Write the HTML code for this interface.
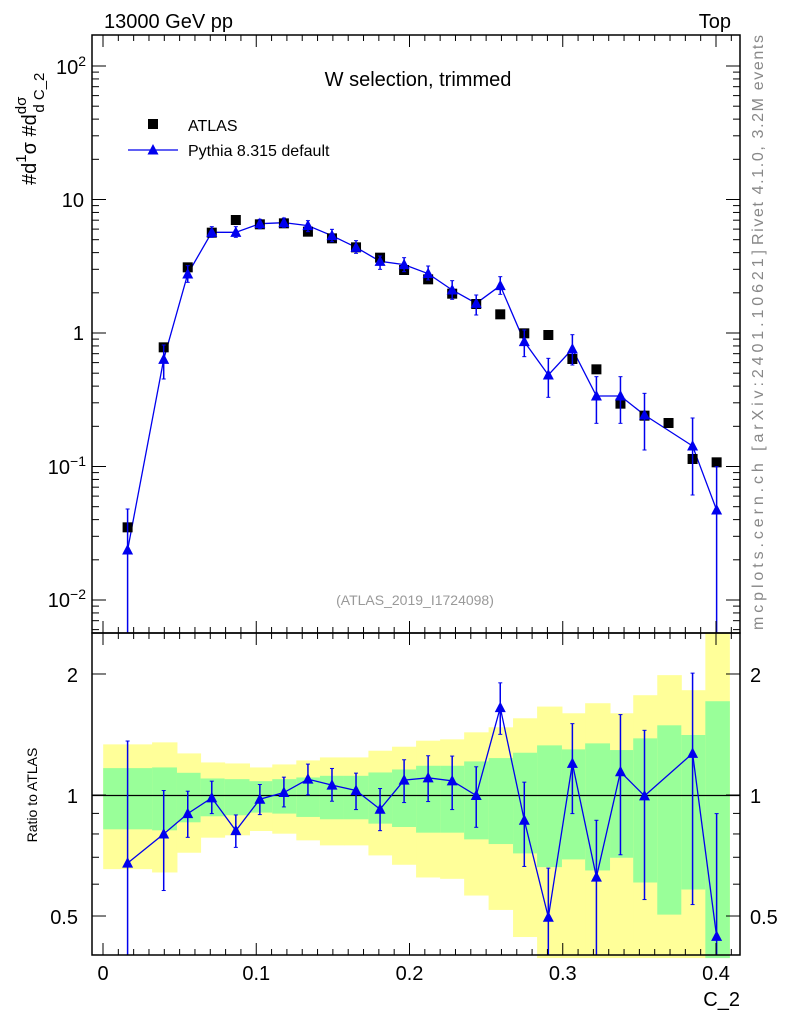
<!DOCTYPE html>
<html><head><meta charset="utf-8"><style>
html,body{margin:0;padding:0;background:#fff}
svg text{font-family:"Liberation Sans",sans-serif}
</style></head><body>
<svg id="s" width="786" height="1024" xmlns="http://www.w3.org/2000/svg"></svg>
<script>
const s=document.getElementById('s');let h='';
const X=v=>103+v*1532.5;
const YM=v=>333-133.5*Math.log10(v);
const YR=r=>795-402*Math.log10(r);
const ez=[27,145,205,262,320,380,435,493,550,608,667,724,782,840,898,957,1016,1074,1134,1190,1250,1306,1364,1422,1480,1538].map(z=>92+z/2.413);
const bands=[[333,404,587,706],[327,402,590,716],[360,418,566,657],[387,435,548,612],[390,437,545,605],[402,443,537,592],[393,437,540,600],[381,432,550,620],[372,427,557,635],[372,427,557,635],[352,417,570,665],[340,408,580,693],[322,397,597,731],[318,397,597,735],[297,384,617,785],[282,374,631,828],[255,358,659,909],[220,336,700,972],[240,348,677,972],[210,330,710,972],[240,350,672,972],[186,315,746,972],[126,276,842,972],[171,305,767,972],[0,204,972,972]];
const ry=z=>633+z/2.99;
for(let i=0;i<25;i++){const b=bands[i],x0=ez[i],w=ez[i+1]-x0;
h+=`<rect x="${x0}" y="${ry(b[0])}" width="${w+0.5}" height="${ry(b[3])-ry(b[0])}" fill="#ffff99"/>`;
h+=`<rect x="${x0}" y="${ry(b[1])}" width="${w+0.5}" height="${ry(b[2])-ry(b[1])}" fill="#99ff99"/>`;}
const cx=i=>i==0?127.6:163.7+(i-1)*24.04;
const A=[1012,472,232,128,90,103,100,125,145,172,203,240,268,311,342,373,430,435,507,538,641,677,699,807,817];
const P=[[1080,957,1335],[508,465,567],[252,227,277],[127,110,142],[127,110,142],[101,88,116],[98,84,112],[107,92,125],[137,118,155],[172,152,190],[214,198,238],[224,203,245],[251,228,270],[300,272,328],[340,315,375],[287,260,313],[455,420,500],[555,505,622],[477,434,525],[618,560,700],[618,560,700],[675,610,780],null,[768,684,915],[960,830,1335]];
const my=z=>190+z/3;
const tri=(x,y)=>`<polygon points="${x-5.5},${y+4.5} ${x+5.5},${y+4.5} ${x},${y-6}" fill="#0000ee"/>`;
const R=[[688,323,972],[601,471,770],[540,473,611],[493,443,540],[591,544,641],[497,453,543],[477,431,520],[437,392,484],[455,405,503],[471,419,528],[527,465,591],[440,379,507],[433,367,504],[442,368,528],[486,400,581],[223,149,303],[560,446,698],[850,703,972],[390,271,540],[730,560,972],[415,244,663],[487,291,797],null,[360,120,812],[907,540,972]];
h+=`<line x1="92" y1="795.5" x2="740" y2="795.5" stroke="#000" stroke-width="1.3"/>`;
let pl=[],rl=[];
for(let i=0;i<25;i++){if(P[i])pl.push(cx(i)+','+my(P[i][0]));if(R[i])rl.push(cx(i)+','+ry(R[i][0]));}
h+=`<polyline points="${pl.join(' ')}" fill="none" stroke="#0000ee" stroke-width="1.3"/>`;
h+=`<polyline points="${rl.join(' ')}" fill="none" stroke="#0000ee" stroke-width="1.3"/>`;
for(let i=0;i<25;i++){const x=cx(i);
h+=`<rect x="${x-5}" y="${my(A[i])-5}" width="10" height="10" fill="#000"/>`;
if(P[i]){const t=my(P[i][1]),b=Math.min(my(P[i][2]),633);
h+=`<line x1="${x}" y1="${t}" x2="${x}" y2="${b}" stroke="#0000ee" stroke-width="1.5"/><line x1="${x-2}" y1="${t}" x2="${x+2}" y2="${t}" stroke="#0000ee"/>`;
if(b<633)h+=`<line x1="${x-2}" y1="${b}" x2="${x+2}" y2="${b}" stroke="#0000ee"/>`;
h+=tri(x,my(P[i][0]));}
if(R[i]){const t=ry(R[i][1]),b=Math.min(ry(R[i][2]),955);
h+=`<line x1="${x}" y1="${t}" x2="${x}" y2="${b}" stroke="#0000ee" stroke-width="1.5"/><line x1="${x-2}" y1="${t}" x2="${x+2}" y2="${t}" stroke="#0000ee"/>`;
if(b<955)h+=`<line x1="${x-2}" y1="${b}" x2="${x+2}" y2="${b}" stroke="#0000ee"/>`;
h+=tri(x,ry(R[i][0]));}}
h+=`<rect x="92" y="35" width="648" height="598" fill="none" stroke="#000" stroke-width="1.5"/>`;
h+=`<rect x="92" y="633" width="648" height="322" fill="none" stroke="#000" stroke-width="1.5"/>`;
for(let k=0;k<=41;k++){const v=k/100,x=X(v),L=k%10==0?12:6;
for(const [y0,d] of [[35,1],[633,-1],[633,1],[955,-1]])h+=`<line x1="${x}" y1="${y0}" x2="${x}" y2="${y0+d*L}" stroke="#000"/>`;}
for(let e=-3;e<=2;e++)for(let m=1;m<10;m++){const v=m*Math.pow(10,e),y=YM(v);if(y<35||y>633)continue;const L=m==1?14:7;
h+=`<line x1="92" y1="${y}" x2="${92+L}" y2="${y}" stroke="#000"/><line x1="740" y1="${y}" x2="${740-L}" y2="${y}" stroke="#000"/>`;}
for(const r of [0.4,0.5,0.6,0.7,0.8,0.9,1,2]){const y=YR(r);const L=(r==0.5||r==1||r==2)?14:7;
h+=`<line x1="92" y1="${y}" x2="${92+L}" y2="${y}" stroke="#000"/><line x1="740" y1="${y}" x2="${740-L}" y2="${y}" stroke="#000"/>`;}
const T=(x,y,t,a='start',sz=20,c='#000',ex='')=>h+=`<text x="${x}" y="${y}" font-size="${sz}" text-anchor="${a}" fill="${c}" ${ex}>${t}</text>`;
T(104,28,'13000 GeV pp');T(731,28,'Top','end');
T(418,86,'W selection, trimmed','middle');
h+=`<rect x="148" y="119" width="10" height="10" fill="#000"/>`;T(188,131,'ATLAS','start',16);
h+=`<line x1="128" y1="150" x2="178" y2="150" stroke="#0000ee" stroke-width="1.3"/>`+tri(153,150);T(188,156,'Pythia 8.315 default','start',16);
T(415,605,'(ATLAS_2019_I1724098)','middle',14,'#999');
T(86,74,'10<tspan dy="-8" font-size="14">2</tspan>','end');
T(84,207,'10','end');T(84,340,'1','end');
T(86,474,'10<tspan dy="-8" font-size="14">−1</tspan>','end');
T(86,607,'10<tspan dy="-8" font-size="14">−2</tspan>','end');
T(78,682,'2','end');T(78,803,'1','end');T(78,924,'0.5','end');
T(750,682,'2');T(750,803,'1');T(750,924,'0.5');
for(const v of [0,0.1,0.2,0.3,0.4])T(X(v),980,v==0?'0':String(v),'middle');
T(740,1006,'C_2','end');
T(0,0,'Ratio to ATLAS','middle',14,'#000','transform="translate(37,795) rotate(-90)"');
T(0,0,'Rivet 4.1.0,  3.2M events','start',16,'#888','transform="translate(763,245) rotate(-90)" textLength="210" lengthAdjust="spacing"');
T(0,0,'mcplots.cern.ch [arXiv:2401.10621]','start',16,'#888','transform="translate(763,630) rotate(-90)" textLength="380" lengthAdjust="spacing"');
T(0,0,'#d<tspan dy="-10" font-size="15">1</tspan><tspan dy="10">σ</tspan> #d<tspan dy="-10" font-size="15">dσ</tspan><tspan dx="-16" dy="18" font-size="15">d C_2</tspan>','start',20,'#000','transform="translate(36,185) rotate(-90)"');
s.innerHTML=h;
</script>
</body></html>
